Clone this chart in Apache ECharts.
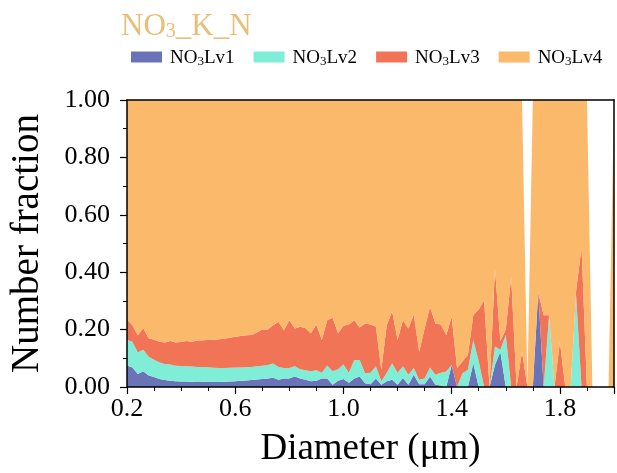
<!DOCTYPE html>
<html>
<head>
<meta charset="utf-8">
<script src="https://cdn.jsdelivr.net/npm/echarts@6/dist/echarts.min.js"></script>
<style>html,body{margin:0;padding:0;background:#fff}#c{width:617px;height:473px}</style>
</head>
<body>
<div id="c"></div>
<script>
const diameters = [
0.20,0.22,0.24,0.26,0.28,0.30,0.32,0.34,0.36,0.38,
0.40,0.42,0.44,0.46,0.48,0.50,0.52,0.54,0.56,0.58,
0.60,0.62,0.64,0.66,0.68,0.70,0.72,0.74,0.76,0.78,
0.80,0.82,0.84,0.86,0.88,0.90,0.92,0.94,0.96,0.98,
1.00,1.02,1.04,1.06,1.08,1.10,1.12,1.14,1.16,1.18,
1.20,1.22,1.24,1.26,1.28,1.30,1.32,1.34,1.36,1.38,
1.40,1.42,1.44,1.46,1.48,1.50,1.52,1.54,1.56,1.58,
1.60,1.62,1.64,1.66,1.68,1.70,1.72,1.74,1.76,1.78,
1.80,1.82,1.84,1.86,1.88,1.90,1.92,1.94,1.96,1.98,
2.00];
const lv1 = [
.075,.068,.045,.055,.040,.035,.028,.024,.022,.020,
.019,.019,.018,.019,.018,.017,.017,.017,.018,.019,
.020,.022,.023,.024,.026,.028,.030,.032,.025,.030,
.030,.037,.030,.025,.020,.022,.030,.030,.008,.022,
.028,.015,.030,.037,.013,.010,.030,.008,.020,.025,
.008,.031,.008,.043,.010,.010,.037,.008,.005,0,
.077,0,0,0,.083,0,0,0,.077,.123,
0,0,0,0,0,0,.330,0,0,0,
0,0,0,0,0,0,0,0,0,0,
0];
const lv2 = [
.090,.090,.075,.075,.065,.060,.057,.056,.056,.054,
.054,.053,.053,.051,.052,.052,.050,.049,.048,.048,
.048,.046,.046,.046,.046,.046,.047,.050,.045,.036,
.036,.035,.032,.033,.035,.036,.020,.045,.047,.040,
.050,.035,.064,.057,.035,.040,.042,.012,.030,.058,
.042,.041,.035,.023,.015,.020,.031,.035,.045,.054,
0,0,.048,.060,.081,.090,0,0,.064,.007,
.181,0,0,0,0,0,0,0,.250,0,
0,0,0,.320,0,0,0,0,0,0,
0];
const lv3 = [
.070,.057,.060,.075,.065,.070,.073,.075,.082,.081,
.084,.088,.087,.092,.093,.095,.098,.100,.102,.105,
.107,.110,.111,.111,.118,.126,.123,.133,.157,.132,
.167,.132,.148,.147,.132,.160,.114,.158,.186,.125,
.135,.168,.139,.113,.173,.168,.138,.040,.166,.181,
.114,.161,.161,.187,.098,.174,.211,.178,.168,.127,
.168,.066,.041,.052,.086,.180,.302,0,.271,.030,
.019,.383,0,.123,0,0,0,.250,0,0,
.158,0,0,.015,.487,0,0,0,0,0,
0];
const lv4 = [
.765,.785,.820,.795,.830,.835,.842,.845,.840,.845,
.843,.840,.842,.838,.837,.836,.835,.834,.832,.828,
.825,.822,.820,.819,.810,.800,.800,.785,.773,.802,
.767,.796,.790,.795,.813,.782,.836,.767,.759,.813,
.787,.782,.767,.793,.779,.782,.790,.940,.784,.736,
.836,.767,.796,.747,.877,.796,.721,.779,.782,.819,
.755,.934,.911,.888,.750,.730,.698,1,.588,.840,
.800,.617,1,.877,0,1,.670,.750,.750,1,
.842,1,1,.665,.513,1,0,0,0,0,
1];
const seriesNames = ['NO3Lv1','NO3Lv2','NO3Lv3','NO3Lv4'];
const seriesValues = [lv1, lv2, lv3, lv4];
const seriesColors = ['#6b73b8','#80eed6','#f27456','#fbb96b'];
const xTickLabels = ['0.2','0.6','1.0','1.4','1.8'];
const yTickLabels = ['0.00','0.20','0.40','0.60','0.80','1.00'];

const FONT = 'Liberation Serif';
const chart = echarts.init(document.getElementById('c'), null, {renderer: 'canvas'});

const series = seriesNames.map((n, i) => ({
  name: n,
  type: 'line',
  stack: 'total',
  xAxisIndex: 0,
  yAxisIndex: 0,
  symbol: 'none',
  showSymbol: false,
  smooth: false,
  lineStyle: {width: 0, opacity: 0},
  itemStyle: {color: seriesColors[i]},
  areaStyle: {color: seriesColors[i], opacity: 1},
  emphasis: {disabled: true},
  data: seriesValues[i].slice()
}));

const tickAxisBase = {type: 'value', min: 0.2, max: 2.0, z: 10, splitLine: {show: false}};

const option = {
  animation: false,
  backgroundColor: '#fff',
  title: {
    text: '{a|NO}{s|3}{a|_K_N}',
    left: 121,
    top: 6,
    padding: 0,
    textStyle: {
      fontFamily: FONT,
      fontWeight: 'normal',
      rich: {
        a: {fontFamily: FONT, fontWeight: 'normal', fontSize: 31, color: '#e8bf78', verticalAlign: 'bottom', lineHeight: 36},
        s: {fontFamily: FONT, fontWeight: 'normal', fontSize: 20, color: '#e8bf78', verticalAlign: 'bottom', lineHeight: 30}
      }
    }
  },
  legend: {
    data: seriesNames,
    left: 131,
    top: 49,
    padding: 0,
    icon: 'rect',
    itemWidth: 31,
    itemHeight: 11,
    itemGap: 19,
    formatter: name => '{a|NO}{s|3}{a|' + name.slice(3) + '}',
    textStyle: {
      fontFamily: FONT,
      color: '#000',
      padding: [0, 0, 0, 3],
      rich: {
        a: {fontFamily: FONT, fontSize: 19, color: '#000', verticalAlign: 'bottom', lineHeight: 22},
        s: {fontFamily: FONT, fontSize: 13, color: '#000', verticalAlign: 'bottom', lineHeight: 18}
      }
    }
  },
  grid: {left: 120, right: 1, top: 100, bottom: 84, containLabel: false},
  xAxis: [
    {
      type: 'category', data: diameters, boundaryGap: false, show: false
    },
    Object.assign({}, tickAxisBase, {
      interval: 0.1, position: 'bottom',
      name: 'Diameter (μm)', nameLocation: 'middle', nameGap: 44,
      nameTextStyle: {fontFamily: FONT, fontSize: 37, color: '#000'},
      axisLine: {show: true, onZero: false, lineStyle: {color: '#000', width: 1.5}},
      axisTick: {show: true, length: 4, lineStyle: {color: '#000', width: 1}},
      axisLabel: {
        show: true, margin: 9, fontFamily: FONT, fontSize: 26, color: '#000',
        formatter: v => { const s = v.toFixed(1); return xTickLabels.indexOf(s) >= 0 && v < 1.95 ? s : ''; }
      }
    }),
    Object.assign({}, tickAxisBase, {
      interval: 0.4, position: 'bottom',
      axisLine: {show: false, onZero: false},
      axisTick: {show: true, length: 7, lineStyle: {color: '#000', width: 1.2}},
      axisLabel: {show: false}
    }),
    Object.assign({}, tickAxisBase, {
      position: 'top',
      axisLine: {show: true, onZero: false, lineStyle: {color: '#000', width: 1.5}},
      axisTick: {show: false}, axisLabel: {show: false}
    })
  ],
  yAxis: [
    {
      type: 'value', min: 0, max: 1, interval: 0.2, position: 'left', z: 10,
      name: 'Number fraction', nameLocation: 'middle', nameGap: 80,
      nameTextStyle: {fontFamily: FONT, fontSize: 39, color: '#000'},
      axisLine: {show: true, onZero: false, lineStyle: {color: '#000', width: 1.5}},
      axisTick: {show: true, length: 7, lineStyle: {color: '#000', width: 1.2}},
      minorTick: {show: true, splitNumber: 2, length: 4, lineStyle: {color: '#000', width: 1}},
      axisLabel: {
        margin: 17, fontFamily: FONT, fontSize: 26, color: '#000',
        formatter: v => { const s = v.toFixed(2); return yTickLabels.indexOf(s) >= 0 ? s : ''; }
      },
      splitLine: {show: false}, minorSplitLine: {show: false}
    },
    {
      type: 'value', min: 0, max: 1, position: 'right', z: 10,
      axisLine: {show: true, onZero: false, lineStyle: {color: '#000', width: 1.5}},
      axisTick: {show: false}, axisLabel: {show: false}, splitLine: {show: false}
    }
  ],
  series: series
};
chart.setOption(option);
</script>
</body>
</html>
